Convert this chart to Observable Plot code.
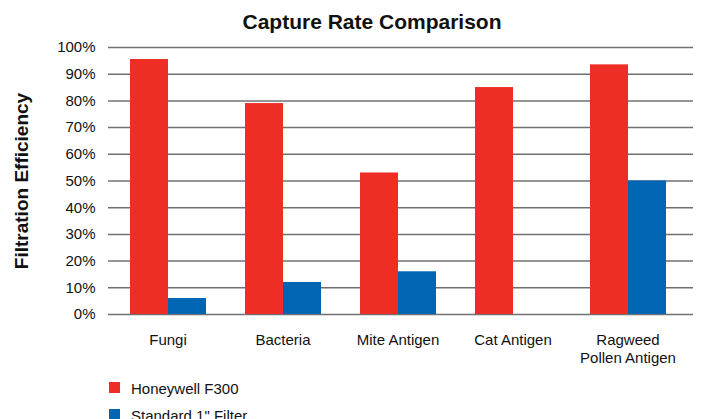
<!DOCTYPE html>
<html>
<head>
<meta charset="utf-8">
<script src="https://cdn.jsdelivr.net/npm/d3@7"></script>
<script src="https://cdn.jsdelivr.net/npm/@observablehq/plot@0.6"></script>
<style>
  html, body { margin: 0; padding: 0; background: #fff; }
  #wrap { position: relative; width: 701px; height: 419px; overflow: hidden; font-family: "Liberation Sans", Arial, Helvetica, sans-serif; color: #111; }
  #title { position: absolute; left: 0; top: 11px; width: 744px; text-align: center; font-size: 21px; line-height: 21px; font-weight: bold; }
  #ytitle { position: absolute; left: 21px; top: 181px; transform: translate(-50%, -50%) rotate(-90deg); font-size: 19px; line-height: 19px; font-weight: bold; white-space: nowrap; }
  #grid, #chart { position: absolute; left: 0; top: 0; }
  .legend { position: absolute; left: 109px; font-size: 15px; line-height: 15px; white-space: nowrap; }
  .legend .sw { display: inline-block; width: 11px; height: 11px; vertical-align: top; margin-top: 1px; }
  .legend .lb { position: absolute; left: 22px; top: 0; }
</style>
</head>
<body>
<div id="wrap">
  <div id="grid"></div>
  <div id="chart"></div>
  <div id="title">Capture Rate Comparison</div>
  <div id="ytitle">Filtration Efficiency</div>
  <div id="legend"></div>
</div>
<script>
const categories = ["Fungi", "Bacteria", "Mite Antigen", "Cat Antigen", "Ragweed Pollen Antigen"];
const categoryLabels = ["Fungi", "Bacteria", "Mite Antigen", "Cat Antigen", "Ragweed\nPollen Antigen"];
const seriesNames = ["Honeywell F300", "Standard 1\" Filter"];
const honeywell = [0.955, 0.79, 0.53, 0.85, 0.935];
const standard = [0.06, 0.12, 0.16, 0, 0.50];
const colors = ["#EE2D24", "#0066B3"];
const yTicks = [0, 0.1, 0.2, 0.3, 0.4, 0.5, 0.6, 0.7, 0.8, 0.9, 1.0];

const rows = [];
categories.forEach((c, i) => {
  rows.push({category: c, series: seriesNames[0], value: honeywell[i]});
  rows.push({category: c, series: seriesNames[1], value: standard[i]});
});
const labelRows = categories.map((c, i) => ({category: c, label: categoryLabels[i]}));

const common = {
  width: 701,
  height: 372,
  marginTop: 47,
  marginBottom: 58,
  marginLeft: 108,
  marginRight: 8,
  style: {fontFamily: "'Liberation Sans', Arial, Helvetica, sans-serif", fontSize: "15px", color: "#111", background: "transparent"}
};

// Gridlines and y axis, spanning the full frame
const grid = Plot.plot({
  ...common,
  y: {domain: [0, 1], axis: null},
  marks: [
    Plot.ruleY(yTicks, {y: d => d, stroke: "#707070", strokeWidth: 1.5}),
    Plot.axisY({ticks: yTicks, tickFormat: d => Math.round(d * 100) + "%", tickSize: 0, tickPadding: 13, label: null, fontSize: 15})
  ]
});
document.getElementById("grid").appendChild(grid);

// Grouped bars, faceted by category
const chart = Plot.plot({
  ...common,
  fx: {domain: categories, padding: 0, range: [110, 685], axis: null},
  x: {domain: seriesNames, paddingInner: 0, paddingOuter: 0.497, axis: null},
  y: {domain: [0, 1], axis: null},
  color: {domain: seriesNames, range: colors},
  marks: [
    Plot.barY(rows, {fx: "category", x: "series", y: "value", fill: "series"}),
    Plot.text(labelRows, {fx: "category", text: "label", frameAnchor: "bottom", lineAnchor: "top", dy: 18, fontSize: 15, lineHeight: 1.2, fill: "#111"})
  ]
});
document.getElementById("chart").appendChild(chart);

const legend = document.getElementById("legend");
seriesNames.forEach((s, i) => {
  const item = document.createElement("div");
  item.className = "legend";
  item.style.top = (381 + i * 27) + "px";
  item.innerHTML = `<span class="sw" style="background:${colors[i]}"></span><span class="lb"></span>`;
  item.querySelector(".lb").textContent = s;
  legend.appendChild(item);
});
</script>
</body>
</html>
